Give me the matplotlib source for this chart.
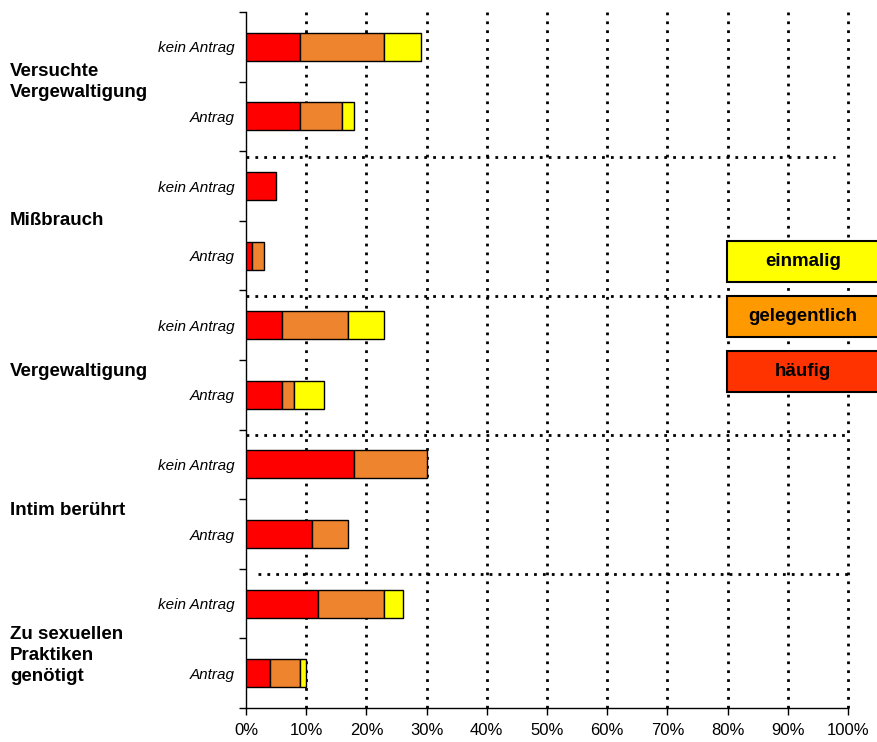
import numpy as np
import matplotlib.pyplot as plt
from matplotlib.patches import Rectangle

plt.rcParams['font.family'] = ['Liberation Sans', 'DejaVu Sans']

# data (percent), top to bottom
rows = ['kein Antrag', 'Antrag'] * 5
haeufig = [9, 9, 5, 1, 6, 6, 18, 11, 12, 4]
gelegentlich = [14, 7, 0, 2, 11, 2, 12, 6, 11, 5]
einmalig = [6, 2, 0, 0, 6, 5, 0, 0, 3, 0.9]

groups = ['Versuchte\nVergewaltigung', 'Mißbrauch', 'Vergewaltigung',
          'Intim berührt', 'Zu sexuellen\nPraktiken\ngenötigt']
group_y = [0.5, 2.49, 4.67, 6.66, 8.74]

legend_labels = ['einmalig', 'gelegentlich', 'häufig']
legend_colors = ['#FFFF00', '#FF9900', '#FF3300']

fig = plt.figure(figsize=(8.77, 7.42), dpi=100)
ax = fig.add_axes([0.2805, 0.0458, 0.6864, 0.938])

y = np.arange(len(rows))
h = np.array(haeufig)
g = np.array(gelegentlich)
e = np.array(einmalig)
kw = dict(height=0.4, edgecolor='black', linewidth=1, zorder=3)
ax.barh(y, h, color='#FF0000', **kw)
ax.barh(y[g > 0], g[g > 0], left=h[g > 0], color='#EE842E', **kw)
ax.barh(y[e > 0], e[e > 0], left=(h + g)[e > 0], color='#FFFF00', **kw)

ax.set_xlim(0, 100)
ax.set_ylim(9.5, -0.5)

dots = (0, (1.0, 2.2))
for xv in range(10, 101, 10):
    ax.plot([xv, xv], [-0.5, 9.5], color='black', lw=2, linestyle=dots,
            zorder=1, clip_on=False)

# horizontal separators between groups
seps = [(1.58, 0, 97.8), (3.58, 0, 105.2), (5.58, 0, 100), (7.58, 2, 100)]
for ys, x0, x1 in seps:
    ax.plot([x0, x1], [ys, ys], color='black', lw=2, linestyle=dots,
            zorder=2, clip_on=False)

ax.set_xticks(range(0, 101, 10))
ax.set_xticklabels([f'{v}%' for v in range(0, 101, 10)], fontsize=12)
ax.set_yticks(y)
ax.set_yticklabels(rows, fontsize=11, style='italic')
ax.set_yticks(np.arange(-0.5, 10, 1), minor=True)
ax.tick_params(axis='y', which='major', length=0, pad=8)
ax.tick_params(axis='y', which='minor', length=5, width=1, direction='out')
ax.tick_params(axis='x', length=5, width=1, direction='out', pad=6)
for s in ['top', 'right']:
    ax.spines[s].set_visible(False)
for s in ['left', 'bottom']:
    ax.spines[s].set_linewidth(1)

for lab, yy in zip(groups, group_y):
    ax.text(-0.392, yy, lab, fontsize=13.5, fontweight='bold', ha='left',
            va='center', linespacing=1.3, transform=ax.get_yaxis_transform(),
            clip_on=False)

# legend boxes
box_top = [241, 296, 351]
for lab, col, top in zip(legend_labels, legend_colors, box_top):
    y0 = 1 - (top + 41) / 742
    fig.patches.append(Rectangle((727 / 877, y0), 0.2, 41 / 742, facecolor=col,
                                 edgecolor='black', linewidth=1.5,
                                 transform=fig.transFigure, zorder=5))
    fig.text(803 / 877, y0 + 20.5 / 742, lab, fontsize=13.5, fontweight='bold',
             ha='center', va='center', zorder=6)

fig.savefig('out.png', dpi=100)
